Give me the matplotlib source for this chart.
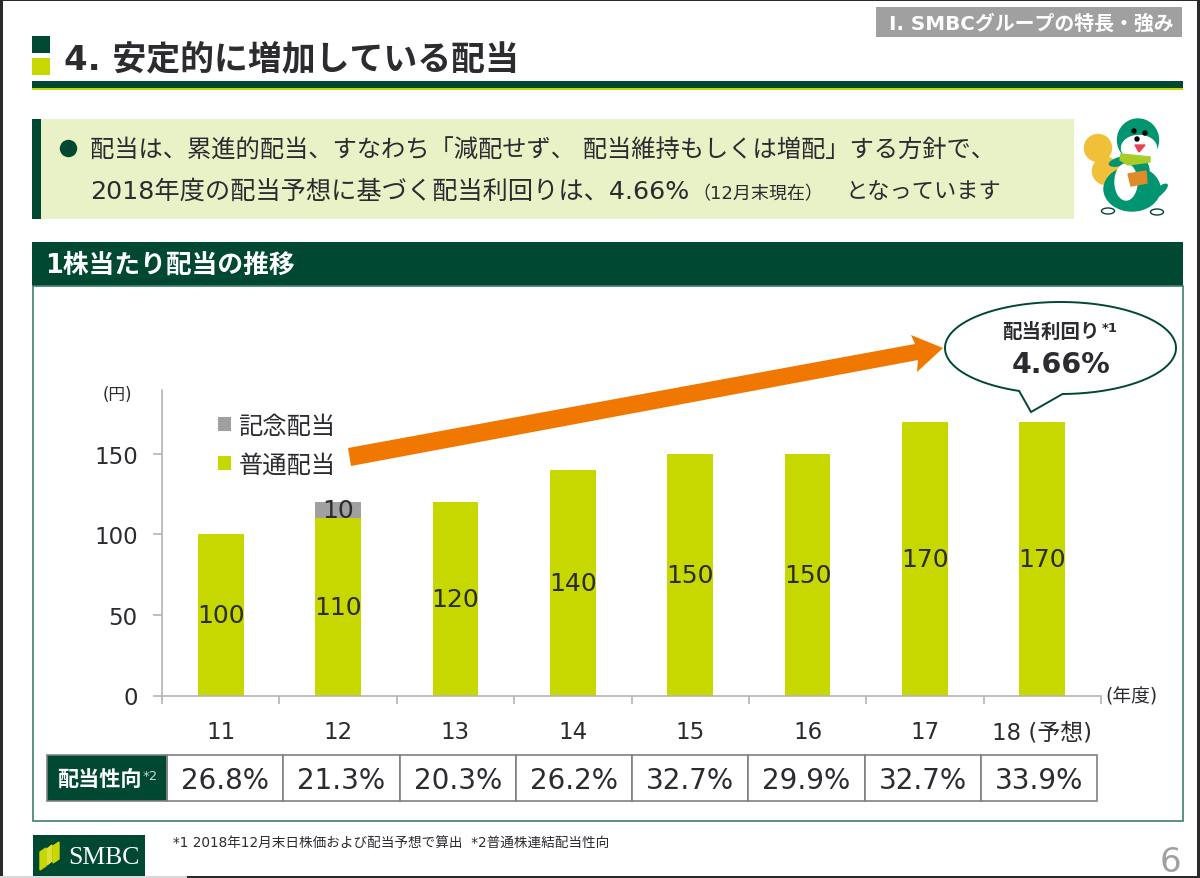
"""SMBC dividend slide: dividend per share by fiscal year, with payout ratio table."""

import matplotlib
matplotlib.use("Agg")
import matplotlib.pyplot as plt
import numpy as np
from matplotlib.patches import Circle, Ellipse, Polygon, Rectangle

plt.rcParams["font.family"] = ["DejaVu Sans", "Noto Sans CJK JP"]

# Data
years = ["11", "12", "13", "14", "15", "16", "17", "18 (予想)"]
ordinary = [100, 110, 120, 140, 150, 150, 170, 170]
commemorative = [0, 10, 0, 0, 0, 0, 0, 0]
payout = ["26.8%", "21.3%", "20.3%", "26.2%", "32.7%", "29.9%", "32.7%", "33.9%"]
y_ticks = [0, 50, 100, 150]

DARK = "#004831"
LIME = "#c6d800"
GREY = "#a0a0a0"
PALE = "#e9f1c6"
ORANGE = "#f07800"
INK = "#2b2b30"
AXIS = "#b4b4b4"
OTTER = "#009470"

fig = plt.figure(figsize=(12, 8.79), dpi=100, facecolor="white")

# Overlay in pixel coordinates for the slide furniture
bg = fig.add_axes([0, 0, 1, 1], zorder=0)
bg.set_xlim(0, 1200)
bg.set_ylim(879, 0)
bg.axis("off")


def rect(x0, y0, x1, y1, color, **kw):
    bg.add_patch(Rectangle((x0, y0), x1 - x0, y1 - y0, facecolor=color, edgecolor="none", **kw))


def label(x, y, s, size, color=INK, ha="left", weight="normal", **kw):
    return bg.text(x, y, s, fontsize=size, color=color, ha=ha, va="center", fontweight=weight, **kw)


# Title block
rect(32, 37, 50, 54, DARK)
rect(32, 59, 50, 76, LIME)
label(64, 60, "4. 安定的に増加している配当", 24.4, weight="bold")
rect(32, 82, 1183, 88.5, DARK)
rect(32, 88.5, 1183, 91, LIME)
rect(876, 8, 1182, 38, GREY)
label(1174, 24.5, "Ⅰ. SMBCグループの特長・強み", 14.3, color="white", ha="right", weight="bold")

# Message band
rect(32, 120, 1074, 220, PALE)
rect(32, 120, 41, 220, DARK)
bg.add_patch(Circle((68.5, 149.5), 8, color=DARK))
label(90, 151, "配当は、累進的配当、すなわち「減配せず、 配当維持もしくは増配」する方針で、", 17.5)
label(90, 192, "2018年度の配当予想に基づく配当利回りは、4.66%", 18.2)
label(692, 194, "（12月末現在）", 13)
label(845, 192, "となっています", 16)

# Mascot, roughly
bg.add_patch(Circle((1098, 149), 13.5, color="#f0c038"))
bg.add_patch(Circle((1106, 172), 13.5, color="#f0c038"))
bg.add_patch(Ellipse((1132, 190), 56, 44, color=OTTER))
bg.add_patch(Ellipse((1135, 172), 28, 30, color=OTTER))
bg.add_patch(Ellipse((1157, 194), 26, 7, angle=-40, color=OTTER))
bg.add_patch(Ellipse((1122, 162), 26, 8, angle=-15, color=OTTER))
bg.add_patch(Ellipse((1126, 183), 22, 36, color="white"))
bg.add_patch(Ellipse((1138, 141), 41, 42, color=OTTER))
bg.add_patch(Ellipse((1139, 149), 35, 25, color="white"))
bg.add_patch(Polygon([[1121, 155], [1150, 158], [1150, 163], [1128, 166], [1120, 161]], color="#a8cc28"))
bg.add_patch(Polygon([[1135, 146], [1145, 146], [1139, 153]], color="#e8405a"))
bg.add_patch(Circle((1134, 132), 2, color="black"))
bg.add_patch(Circle((1145, 134), 2, color="black"))
bg.add_patch(Circle((1137, 140), 2, color="black"))
bg.add_patch(Polygon([[1128, 175], [1146, 172], [1147, 184], [1131, 187]], color="#e08a28"))
bg.add_patch(Ellipse((1108, 212), 13, 6, facecolor="white", edgecolor=DARK))
bg.add_patch(Ellipse((1157, 213), 13, 6, facecolor="white", edgecolor=DARK))

# Chart section frame
rect(32, 243, 1183, 287, DARK)
label(45, 266, "1株当たり配当の推移", 18.5, color="white", weight="bold")
bg.add_patch(Rectangle((32.5, 287), 1150.5, 535, facecolor="none", edgecolor="#3f7f6c", linewidth=1.2))

# Chart proper
ax = fig.add_axes([162 / 1200, 1 - 696.5 / 879, (1101 - 162) / 1200, 306 / 879], zorder=1)
ax.patch.set_alpha(0)
x = np.arange(len(years))
b1 = ax.bar(x, ordinary, width=0.39, color=LIME, label="普通配当")
b2 = ax.bar(x, commemorative, width=0.39, bottom=ordinary, color=GREY, label="記念配当")
ax.bar_label(b1, label_type="center", fontsize=18, color=INK)
ax.bar_label(b2, labels=[str(v) if v else "" for v in commemorative], label_type="center", fontsize=18, color=INK)
ax.set_xlim(-0.5, len(years) - 0.5)
ax.set_ylim(0, 190)
ax.set_yticks(y_ticks)
ax.set_xticks(x, years)
ax.set_xticks(np.arange(len(years) + 1) - 0.5, minor=True)
ax.tick_params(axis="x", which="major", length=0, pad=18, labelsize=16.5, labelcolor=INK)
ax.tick_params(axis="x", which="minor", length=6, width=1.2, color=AXIS)
ax.tick_params(axis="y", length=6.5, width=1.2, color=AXIS, pad=11, labelsize=16.5, labelcolor=INK)
for side in ("top", "right"):
    ax.spines[side].set_visible(False)
for side in ("left", "bottom"):
    ax.spines[side].set_color(AXIS)
    ax.spines[side].set_linewidth(1.2)

handles, names = ax.get_legend_handles_labels()
ax.legend(handles[::-1], names[::-1], loc="upper left", bbox_to_anchor=(0.0595, 0.921), frameon=False,
          fontsize=17.5, labelcolor=INK, handlelength=0.55, handleheight=0.55, handletextpad=0.3,
          labelspacing=0.62, borderpad=0, borderaxespad=0)

label(103, 395, "(円)", 12)
label(1105, 697, "(年度)", 13.5)

# Orange trend arrow
bg.add_patch(Polygon([[348, 449], [915, 345], [911, 336], [943, 349], [917, 373], [918, 361], [351, 467]],
                     facecolor=ORANGE, edgecolor="none"))

# Yield callout: ellipse outline, opened at the bottom for the pointer
t = np.radians(np.linspace(111, 449, 300))
outline = np.column_stack([1060.5 + 115.5 * np.cos(t), 349 + 46 * np.sin(t)])
outline = np.vstack([outline, [[1031, 413]]])
bg.add_patch(Polygon(outline, facecolor="white", edgecolor=DARK, linewidth=1.4, zorder=3))
label(1002, 332, "配当利回り", 14, weight="bold", zorder=4)
label(1102, 329, "*1", 9.5, weight="bold", zorder=4)
label(1061, 365, "4.66%", 20.5, ha="center", weight="bold", zorder=4)

# Payout ratio row
top, bottom = 756, 802
rect(47, top, 167, bottom, DARK)
label(57, 780, "配当性向", 15.2, color="white", weight="bold")
label(143, 777, "*2", 9.5, color="#c8d8d0")
cell = (1097 - 167) / len(payout)
for i, val in enumerate(payout):
    x0 = 167 + i * cell
    bg.add_patch(Rectangle((x0, top), cell, bottom - top, facecolor="white", edgecolor="#808080", linewidth=1.2))
    label(x0 + cell / 2, 781, val, 20, ha="center")
bg.add_patch(Rectangle((47, top), 120, bottom - top, facecolor="none", edgecolor="#808080", linewidth=1.2))

# Footer
rect(33, 836, 145, 878, DARK)
bg.add_patch(Polygon([[40, 853], [46, 849], [46, 867], [40, 871]], color=LIME))
bg.add_patch(Polygon([[47, 850], [52, 846], [52, 862], [47, 866]], color="#e0e030"))
bg.add_patch(Polygon([[53, 847], [59, 843], [59, 860], [53, 864]], color=LIME))
label(68, 858, "SMBC", 18.5, color="white", family="Liberation Serif")
label(173, 844, "*1 2018年12月末日株価および配当予想で算出  *2普通株連結配当性向", 9.8)
label(1160, 863, "6", 24.5, color="#a0a0a0")

# Window edge around the screenshot
rect(0, 0, 1200, 2, "#2a2a2a", zorder=6)
rect(0, 0, 3, 879, "#2a2a2a", zorder=6)
rect(1197, 0, 1200, 879, "#2a2a2a", zorder=6)
rect(0, 877, 1200, 879, "#2a2a2a", zorder=6)
rect(0, 877, 187, 879, "#d8d8d8", zorder=6)

fig.savefig("out.png", dpi=100)
